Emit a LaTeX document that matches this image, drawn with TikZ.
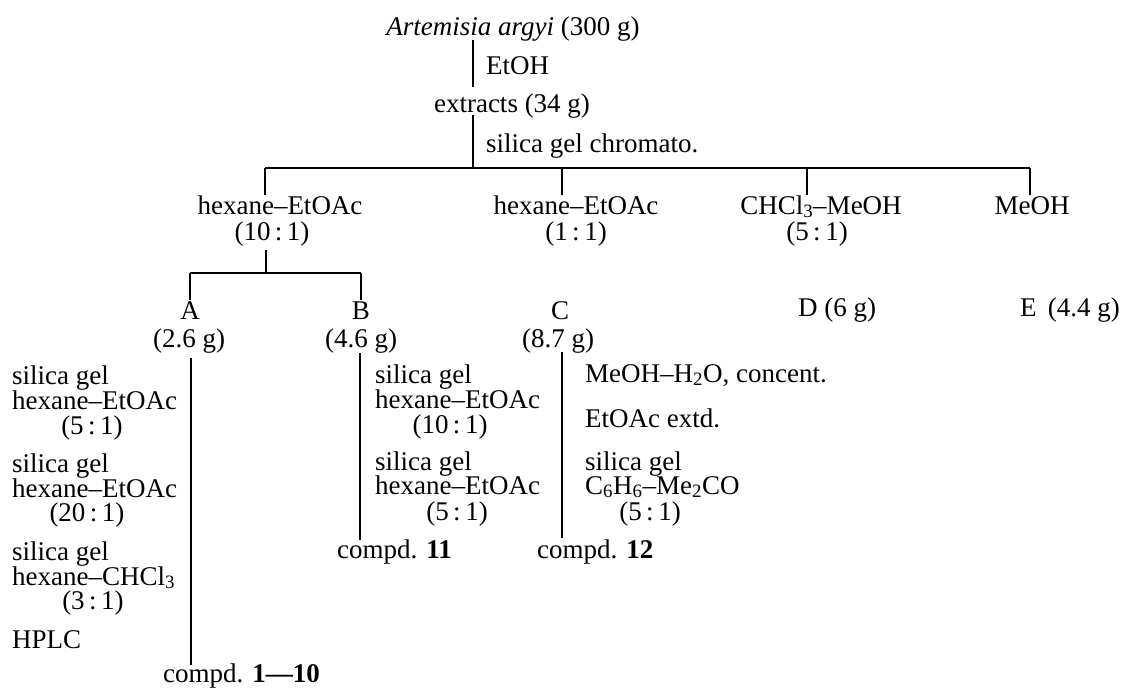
\documentclass[tikz,border=0pt]{standalone}
\usepackage{fontspec}
\setmainfont{Liberation Serif}
\begin{document}
\begin{tikzpicture}[x=1pt,y=-1pt,
  every node/.style={inner sep=0pt, font=\fontsize{27}{25}\selectfont, text height=17pt, text depth=5pt},
  lbl/.style={anchor=base},
  lblw/.style={anchor=base west},
  lble/.style={anchor=base east},
  conn/.style={line width=1.2pt},
  hconn/.style={line width=1.5pt}]
\useasboundingbox (0,0) rectangle (1122,688);
\newcommand{\rt}[2]{(#1\,:\,#2)}
% top
\node[lbl] (art) at (513,35) {\textit{Artemisia argyi} (300 g)};
\node[lblw] (etoh) at (486,74) {EtOH};
\node[lbl] (ext) at (512,112) {extracts (34 g)};
\node[lblw] (sgc) at (486,152) {silica gel chromato.};
\coordinate (t0) at (473,40);
\coordinate (t1) at (473,87);
\coordinate (t2) at (473,115);
\coordinate (j0) at (473,168);
\draw[conn] (t0) -- (t1);
\draw[conn] (t2) -- (j0);
% first split
\coordinate (h1) at (265,168);
\coordinate (h2) at (562,168);
\coordinate (h3) at (807,168);
\coordinate (h4) at (1030,168);
\coordinate (d1) at (265,195);
\coordinate (d2) at (562,195);
\coordinate (d3) at (807,195);
\coordinate (d4) at (1030,195);
\draw[hconn] (h1) -- (h4);
\draw[conn] (h1) -- (d1);
\draw[conn] (h2) -- (d2);
\draw[conn] (h3) -- (d3);
\draw[conn] (h4) -- (d4);
\node[lbl] (f1) at (280,214) {hexane–EtOAc};
\node[lbl] (f1r) at (272,240) {\rt{10}{1}};
\node[lbl] (f2) at (576,214) {hexane–EtOAc};
\node[lbl] (f2r) at (576,240) {\rt{1}{1}};
\node[lbl] (f3) at (821,214) {CHCl\textsubscript{3}–MeOH};
\node[lbl] (f3r) at (817,240) {\rt{5}{1}};
\node[lbl] (f4) at (1032,214) {MeOH};
% second split
\coordinate (s0) at (266,250);
\coordinate (s1) at (266,273);
\coordinate (sa) at (190,273);
\coordinate (sb) at (361,273);
\coordinate (sa2) at (190,300);
\coordinate (sb2) at (361,300);
\draw[conn] (s0) -- (s1);
\draw[hconn] (sa) -- (sb);
\draw[conn] (sa) -- (sa2);
\draw[conn] (sb) -- (sb2);
% fractions
\node[lbl] (A) at (190,319) {A};
\node[lbl] (Aw) at (189,347) {(2.6 g)};
\node[lbl] (B) at (361,319) {B};
\node[lbl] (Bw) at (361,347) {(4.6 g)};
\node[lbl] (C) at (560,319) {C};
\node[lbl] (Cw) at (558,347) {(8.7 g)};
\node[lblw] (D) at (798,316) {D (6 g)};
\node[lble] (E) at (1120,316) {E\, (4.4 g)};
% column A
\coordinate (a0) at (191,358);
\coordinate (a1) at (191,665);
\draw[conn] (a0) -- (a1);
\node[lblw] (a1l1) at (12,384) {silica gel};
\node[lblw] (a1l2) at (12,409) {hexane–EtOAc};
\node[lbl]  (a1l3) at (92,434) {\rt{5}{1}};
\node[lblw] (a2l1) at (12,472) {silica gel};
\node[lblw] (a2l2) at (12,497) {hexane–EtOAc};
\node[lbl]  (a2l3) at (87,521) {\rt{20}{1}};
\node[lblw] (a3l1) at (12,560) {silica gel};
\node[lblw] (a3l2) at (12,585) {hexane–CHCl\textsubscript{3}};
\node[lbl]  (a3l3) at (93,609) {\rt{3}{1}};
\node[lblw] (a4) at (12,648) {HPLC};
\node[lblw] (cA) at (163,682) {compd. \textbf{1—10}};
% column B
\coordinate (b0) at (360,353);
\coordinate (b1) at (360,540);
\draw[conn] (b0) -- (b1);
\node[lblw] (b1l1) at (375,383) {silica gel};
\node[lblw] (b1l2) at (375,408) {hexane–EtOAc};
\node[lbl]  (b1l3) at (450,433) {\rt{10}{1}};
\node[lblw] (b2l1) at (375,470) {silica gel};
\node[lblw] (b2l2) at (375,494) {hexane–EtOAc};
\node[lbl]  (b2l3) at (457,520) {\rt{5}{1}};
\node[lblw] (cB) at (337,558) {compd. \textbf{11}};
% column C
\coordinate (c0) at (562,352);
\coordinate (c1) at (562,538);
\draw[conn] (c0) -- (c1);
\node[lblw] (c1l1) at (585,382) {MeOH–H\textsubscript{2}O, concent.};
\node[lblw] (c2l1) at (585,427) {EtOAc extd.};
\node[lblw] (c3l1) at (585,470) {silica gel};
\node[lblw] (c3l2) at (585,494) {C\textsubscript{6}H\textsubscript{6}–Me\textsubscript{2}CO};
\node[lbl]  (c3l3) at (650,520) {\rt{5}{1}};
\node[lblw] (cC) at (537,558) {compd. \textbf{12}};
\end{tikzpicture}
\end{document}
